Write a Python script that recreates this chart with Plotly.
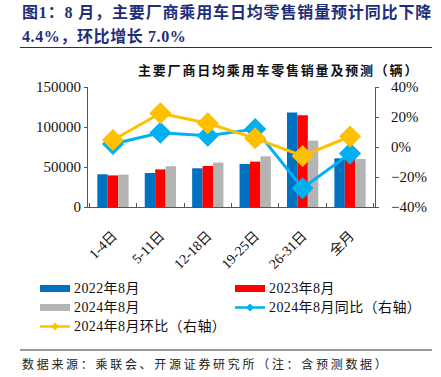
import plotly.graph_objects as go

categories = ["1-4日", "5-11日", "12-18日", "19-25日", "26-31日", "全月"]
sales_2022 = [40900, 42500, 48400, 53800, 118000, 60900]
sales_2023 = [39500, 47000, 51300, 56700, 114600, 62800]
sales_2024 = [40500, 51000, 55500, 63300, 83000, 60000]
yoy_2024 = [0.02, 0.095, 0.075, 0.12, -0.275, -0.044]
mom_2024 = [0.047, 0.225, 0.158, 0.058, -0.06, 0.07]

names = ["2022年8月", "2023年8月", "2024年8月", "2024年8月同比（右轴）", "2024年8月环比（右轴）"]
C_BLUE, C_RED, C_GRAY, C_LBLUE, C_GOLD = "#0070C0", "#FF0000", "#B4B4B4", "#00B0F0", "#FFC000"

W, H = 441, 377
L, R, T, B = 88, 375, 87, 207
SERIF = "Liberation Serif, Noto Sans CJK SC"
CJK = "Noto Sans CJK SC"

def px(x):
    return (x - L) / (R - L)

def py(y):
    return (B - y) / (B - T)

def spaced(t, sp):
    return '<span style="letter-spacing:{}px">{}</span>'.format(sp, t)

fig = go.Figure()
for vals, col, nm in [(sales_2022, C_BLUE, names[0]), (sales_2023, C_RED, names[1]), (sales_2024, C_GRAY, names[2])]:
    fig.add_trace(go.Bar(x=categories, y=vals, marker=dict(color=col, line=dict(width=0)), name=nm, showlegend=False))
fig.add_trace(go.Scatter(x=categories, y=yoy_2024, yaxis="y2", mode="lines+markers", name=names[3], showlegend=False,
                         line=dict(color=C_LBLUE, width=3), marker=dict(symbol="diamond", size=17, color=C_LBLUE)))
fig.add_trace(go.Scatter(x=categories, y=mom_2024, yaxis="y2", mode="lines+markers", name=names[4], showlegend=False,
                         line=dict(color=C_GOLD, width=3), marker=dict(symbol="diamond", size=17, color=C_GOLD)))

shapes = []
annotations = []
# header
annotations.append(dict(x=px(20), y=py(12), xref="paper", yref="paper", xanchor="left", yanchor="middle", showarrow=False,
                        text="<b>" + spaced("图1：8 月，主要厂商乘用车日均零售销量预计同比下降", 0.85) + "</b>",
                        font=dict(family="Liberation Serif, " + CJK, size=16, color="#1F2E7A")))
annotations.append(dict(x=px(20), y=py(37), xref="paper", yref="paper", xanchor="left", yanchor="middle", showarrow=False,
                        text="<b>" + spaced("4.4%，环比增长 7.0%", 0.6) + "</b>",
                        font=dict(family="Liberation Serif, " + CJK, size=16, color="#1F2E7A")))
shapes.append(dict(type="line", xref="paper", yref="paper", x0=px(20), x1=px(432), y0=py(47.5), y1=py(47.5),
                   line=dict(color="#333333", width=1.2)))
# chart title
annotations.append(dict(x=px(278), y=py(69), xref="paper", yref="paper", xanchor="center", yanchor="middle", showarrow=False,
                        text="<b>" + spaced("主要厂商日均乘用车零售销量及预测（辆）", 1.8) + "</b>",
                        font=dict(family=CJK, size=13, color="#111111")))
# legend
def rect(x0, yc, col):
    shapes.append(dict(type="rect", xref="paper", yref="paper", x0=px(x0), x1=px(x0 + 30), y0=py(yc - 3.5), y1=py(yc + 3.5),
                       fillcolor=col, line=dict(width=0)))

def lineleg(x0, yc, col):
    shapes.append(dict(type="line", xref="paper", yref="paper", x0=px(x0), x1=px(x0 + 30), y0=py(yc), y1=py(yc),
                       line=dict(color=col, width=2.5)))
    cx = x0 + 15
    d = 4
    path = "M {} {} L {} {} L {} {} L {} {} Z".format(px(cx - d), py(yc), px(cx), py(yc - d), px(cx + d), py(yc), px(cx), py(yc + d))
    shapes.append(dict(type="path", xref="paper", yref="paper", path=path, fillcolor=col, line=dict(color=col, width=0)))

def legtext(x, yc, t):
    annotations.append(dict(x=px(x), y=py(yc), xref="paper", yref="paper", xanchor="left", yanchor="middle", showarrow=False,
                            text=spaced(t, 0.4), font=dict(family=SERIF, size=14, color="#111111")))

rect(40, 288.5, C_BLUE); legtext(72, 288.5, names[0])
rect(235, 288.5, C_RED); legtext(267, 288.5, names[1])
rect(40, 307.5, C_GRAY); legtext(72, 307.5, names[2])
lineleg(235, 307.5, C_LBLUE); legtext(267, 307.5, names[3])
lineleg(40, 326.5, C_GOLD); legtext(72, 326.5, names[4])

# footer
shapes.append(dict(type="line", xref="paper", yref="paper", x0=px(20), x1=px(432), y0=py(350), y1=py(350),
                   line=dict(color="#333333", width=1.2)))
annotations.append(dict(x=px(20), y=py(363.5), xref="paper", yref="paper", xanchor="left", yanchor="middle", showarrow=False,
                        text=spaced("数据来源：乘联会、开源证券研究所（注：含预测数据）", 2.7),
                        font=dict(family=CJK, size=12, color="#222222")))

fig.update_layout(
    width=W, height=H,
    margin=dict(l=L, r=W - R, t=T, b=H - B, pad=0),
    paper_bgcolor="white", plot_bgcolor="white",
    barmode="group", bargap=0.34, bargroupgap=0,
    showlegend=False,
    xaxis=dict(type="category", showline=True, linecolor="#555555", linewidth=1, ticks="inside", ticklen=4,
               tickcolor="#555555", tickson="boundaries", tickangle=-45, ticklabelstandoff=14,
               tickfont=dict(family=SERIF, size=14, color="#111111")),
    yaxis=dict(range=[0, 150000], dtick=50000, tickformat="d", showgrid=False, zeroline=False, showline=True,
               linecolor="#555555", linewidth=1, ticks="outside", ticklen=3, tickcolor="#555555",
               tickfont=dict(family=SERIF, size=15, color="#111111")),
    yaxis2=dict(range=[-0.4, 0.4], dtick=0.2, tickformat=".0%", overlaying="y", side="right", showgrid=False,
                zeroline=False, showline=True, linecolor="#555555", linewidth=1, ticks="outside", ticklen=3,
                tickcolor="#555555", ticklabelstandoff=9, tickfont=dict(family=SERIF, size=15, color="#111111")),
    shapes=shapes, annotations=annotations,
)
fig.write_html("out.html", config={"displayModeBar": False},
               post_script="document.body.style.margin='0';document.body.style.padding='0';")
